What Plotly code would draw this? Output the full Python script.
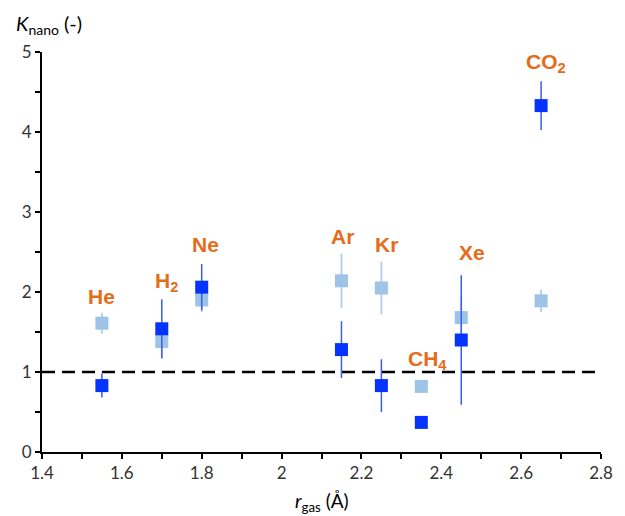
import plotly.graph_objects as go

gases = ["He", "H<sub>2</sub>", "Ne", "Ar", "Kr", "CH<sub>4</sub>", "Xe", "CO<sub>2</sub>"]
r_gas = [1.55, 1.70, 1.80, 2.15, 2.25, 2.35, 2.45, 2.65]
k_light = [1.61, 1.38, 1.90, 2.14, 2.05, 0.82, 1.68, 1.89]
k_light_err = [0.13, 0.20, 0.15, 0.34, 0.33, 0.06, 0.28, 0.14]
k_dark = [0.83, 1.54, 2.06, 1.28, 0.83, 0.37, 1.40, 4.33]
k_dark_err = [0.15, 0.37, 0.29, 0.355, 0.33, 0.06, 0.81, 0.305]
label_x = [1.55, 1.712, 1.81, 2.153, 2.262, 2.365, 2.477, 2.663]
label_y = [1.95, 2.13, 2.60, 2.70, 2.60, 1.15, 2.49, 4.86]
x_ticks = [1.4, 1.6, 1.8, 2.0, 2.2, 2.4, 2.6, 2.8]
x_tick_text = ["1.4", "1.6", "1.8", "2", "2.2", "2.4", "2.6", "2.8"]
y_ticks = [0, 1, 2, 3, 4, 5]

LIGHT = "#9DC3E6"
DARK = "#0433FF"
ORANGE = "#E46C1A"
FONT = "Lato"

fig = go.Figure()
fig.add_trace(go.Scatter(
    x=r_gas, y=k_light, mode="markers",
    marker=dict(symbol="square", size=13, color=LIGHT),
    error_y=dict(type="data", array=k_light_err, color="#AFCDEB", thickness=1.8, width=0),
    showlegend=False))
fig.add_trace(go.Scatter(
    x=r_gas, y=k_dark, mode="markers",
    marker=dict(symbol="square", size=13, color=DARK),
    error_y=dict(type="data", array=k_dark_err, color="#3A5CF2", thickness=1.5, width=0),
    showlegend=False))

fig.add_shape(type="line", x0=1.4, x1=2.8, y0=1, y1=1, xref="x", yref="y",
              line=dict(color="black", width=2.5, dash="13px,7px"), layer="below")

for g, x, y in zip(gases, label_x, label_y):
    fig.add_annotation(x=x, y=y, text="<b>" + g + "</b>", showarrow=False,
                       font=dict(family="Liberation Sans, Arial", size=21, color=ORANGE))

fig.add_annotation(xref="paper", yref="paper", x=-0.05, y=1.03, xanchor="left", yanchor="bottom",
                   text="<i>K</i><sub>nano</sub> (-)", showarrow=False,
                   font=dict(family=FONT, size=20, color="black"))
fig.add_annotation(xref="paper", yref="paper", x=0.5, y=-0.088, xanchor="center", yanchor="top",
                   text="<i>r</i><sub>gas</sub> (Å)", showarrow=False,
                   font=dict(family=FONT, size=19, color="black"))

fig.update_layout(
    width=625, height=516,
    margin=dict(l=42, r=18, t=52, b=64),
    plot_bgcolor="white", paper_bgcolor="white",
    font=dict(family=FONT, size=16, color="#333"),
    xaxis=dict(range=[1.4, 2.8], tickvals=x_ticks, ticktext=x_tick_text,
               showgrid=False, zeroline=False, showline=True, linecolor="black", linewidth=2,
               ticks="outside", ticklen=5, tickwidth=1.5, tickcolor="black",
               minor=dict(dtick=0.1, tick0=1.4, ticks="outside", ticklen=5, tickwidth=1.5, tickcolor="black"),
               tickfont=dict(size=17, color="#333")),
    yaxis=dict(range=[0, 5], tickvals=y_ticks,
               showgrid=False, zeroline=False, showline=True, linecolor="black", linewidth=2,
               ticks="outside", ticklen=5, tickwidth=1.5, tickcolor="black",
               minor=dict(dtick=0.5, tick0=0, ticks="outside", ticklen=5, tickwidth=1.5, tickcolor="black"),
               tickfont=dict(size=17, color="#333")),
)

fig.write_html("out.html")
